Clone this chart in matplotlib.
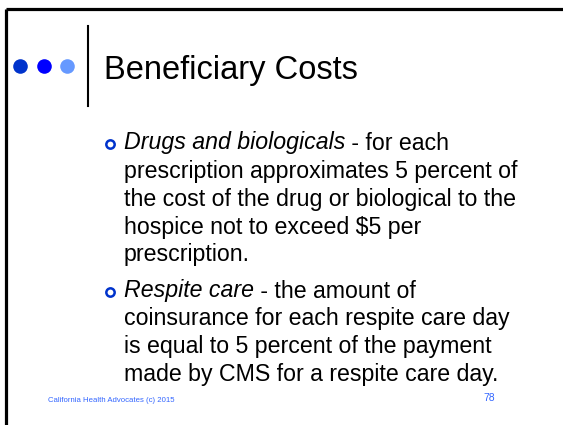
import matplotlib
matplotlib.use("Agg")
import matplotlib.pyplot as plt
from matplotlib.lines import Line2D

title = "Beneficiary Costs"
bullet_heads = ["Drugs and biologicals", "Respite care"]
bullet_lines = [
    [" - for each", "prescription approximates 5 percent of",
     "the cost of the drug or biological to the",
     "hospice not to exceed $5 per", "prescription."],
    [" - the amount of", "coinsurance for each respite care day",
     "is equal to 5 percent of the payment",
     "made by CMS for a respite care day."],
]
footer = "California Health Advocates (c) 2015"
page = "78"
dot_colors = ["#0033CC", "#0000FF", "#6699FF"]

W, H = 563, 425
fig = plt.figure(figsize=(W / 100, H / 100), dpi=100)
ax = fig.add_axes([0, 0, 1, 1])
ax.set_xlim(0, W)
ax.set_ylim(H, 0)
ax.axis("off")
font = "Liberation Sans"

# border
ax.add_line(Line2D([5.5, W], [8.5, 8.5], color="black", lw=2.3, solid_capstyle="butt"))
ax.add_line(Line2D([5.5, 5.5], [8.5, H], color="black", lw=2.3, solid_capstyle="butt"))

# dots
for i, c in enumerate(dot_colors):
    ax.plot(20 + 23.5 * i, 66, "o", ms=10.5, color=c, mec="none")
ax.add_line(Line2D([87.5, 87.5], [26, 106], color="black", lw=1.5))

ax.text(104, 79, title, fontsize=23.5, family=font, va="baseline", ha="left")

fig.canvas.draw()
r = fig.canvas.get_renderer()
y_starts = [149.5, 297.5]
lh = 28
fs = 16.7
for head, lines, y0 in zip(bullet_heads, bullet_lines, y_starts):
    ax.plot(109.5, y0 - 5.5, "o", ms=6, mfc="white", mec="#0033CC", mew=1.8)
    t = ax.text(124, y0, head, fontsize=fs, family=font, style="italic", va="baseline")
    bb = t.get_window_extent(renderer=r)
    x_end = ax.transData.inverted().transform((bb.x1, bb.y0))[0]
    ax.text(x_end, y0, lines[0], fontsize=fs, family=font, va="baseline")
    for k, ln in enumerate(lines[1:], start=1):
        ax.text(124, y0 + k * lh, ln, fontsize=fs, family=font, va="baseline")

ax.text(48, 402, footer, fontsize=5.55, family=font, color="#3366FF", va="baseline")
ax.text(483, 401, page, fontsize=7.5, family=font, color="#3366FF", va="baseline")

fig.savefig("out.png", dpi=100)
